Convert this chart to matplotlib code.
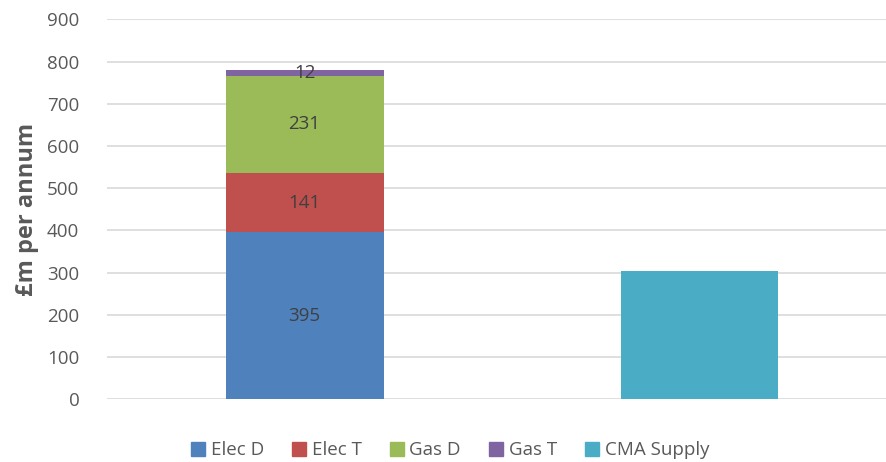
import matplotlib
matplotlib.use("Agg")
import matplotlib.pyplot as plt
from matplotlib.patches import Patch

categories = ["Networks", "CMA"]
series_names = ["Elec D", "Elec T", "Gas D", "Gas T"]
series_values = [395, 141, 231, 12]
series_colors = ["#4F81BD", "#C0504D", "#9BBB59", "#8064A2"]
cma_name = "CMA Supply"
cma_value = 303
cma_color = "#4BACC6"
y_ticks = [0, 100, 200, 300, 400, 500, 600, 700, 800, 900]

plt.rcParams['font.family'] = ['Open Sans', 'DejaVu Sans']

fig = plt.figure(figsize=(8.86, 4.62), dpi=100)
ax = fig.add_axes([0.1208, 0.136, 0.8916, 0.822])

width = 0.4
bottom = 0
for name, val, col in zip(series_names, series_values, series_colors):
    ax.bar(0, val, width, bottom=bottom, color=col, zorder=3)
    ax.text(0, bottom + val / 2, str(val), ha="center", va="center",
            fontsize=13.5, color="#404040", zorder=4)
    bottom += val
ax.bar(1, cma_value, width, color=cma_color, zorder=3)

ax.set_xlim(-0.5, 1.5)
ax.set_ylim(0, 900)
ax.set_yticks(y_ticks)
ax.set_xticks([])
ax.tick_params(axis="y", length=0, labelsize=13.5, labelcolor="#595959", pad=20)
ax.grid(axis="y", color="#D9D9D9", linewidth=1.2, zorder=0)
for s in ax.spines.values():
    s.set_visible(False)
ax.set_ylabel("£m per annum", fontsize=17, fontweight="bold", color="#595959", labelpad=6)

handles = [Patch(color=c) for c in series_colors + [cma_color]]
labels = series_names + [cma_name]
fig.legend(handles, labels, loc="center", bbox_to_anchor=(0.508, 0.025), ncol=5,
           frameon=False, fontsize=13.5, handlelength=0.75, handleheight=0.75,
           handletextpad=0.3, columnspacing=1.5, labelcolor="#595959")

fig.savefig("out.png", dpi=100)
